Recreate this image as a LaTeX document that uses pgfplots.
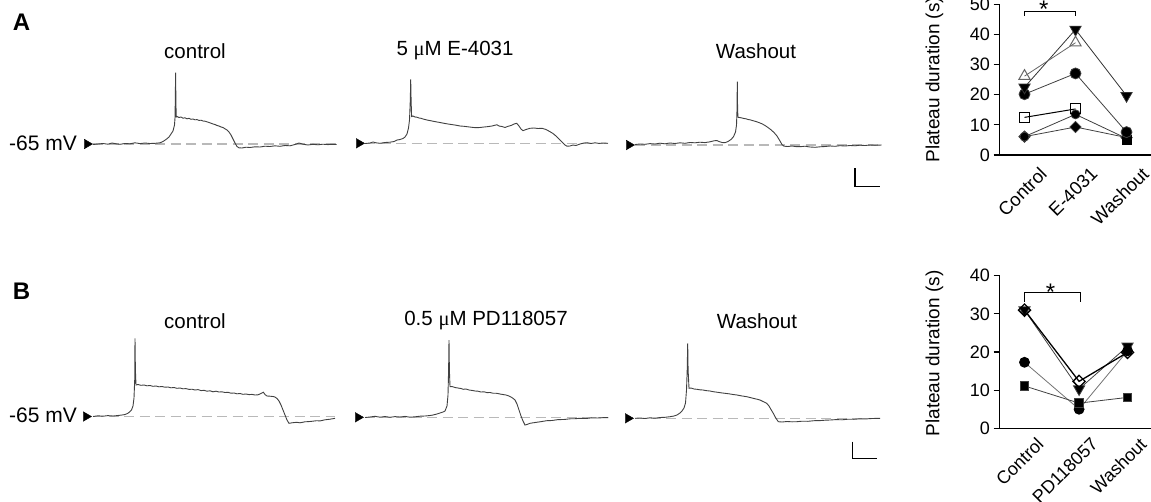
\documentclass[border=0pt]{standalone}
\usepackage{pgfplots}
\pgfplotsset{compat=1.18}
\usepackage{fontspec}
\setmainfont{Liberation Sans}
\newfontfamily\serifmu{Liberation Serif}
\definecolor{tracegray}{RGB}{65,65,65}
\definecolor{dashgray}{RGB}{185,185,185}
\begin{document}
\begin{tikzpicture}[x=1pt,y=1pt]
\useasboundingbox (0,0) rectangle (1151,501);
\begin{axis}[at={(0pt,0pt)}, anchor=south west, width=1151pt, height=501pt, scale only axis,
  xmin=0, xmax=1151, ymin=0, ymax=501, y dir=reverse, axis lines=none, clip=false]
% dashed baselines
\addplot[dashgray, line width=1.1pt, dash pattern=on 10pt off 5.5pt] coordinates {(93,144)(337,144)};
\addplot[dashgray, line width=1.1pt, dash pattern=on 10pt off 5.5pt] coordinates {(365,143.3)(608,143.3)};
\addplot[dashgray, line width=1.1pt, dash pattern=on 10pt off 5.5pt] coordinates {(635,145)(882,145)};
\addplot[dashgray, line width=1.1pt, dash pattern=on 10pt off 5.5pt] coordinates {(93,416.7)(335,416.7)};
\addplot[dashgray, line width=1.1pt, dash pattern=on 10pt off 5.5pt] coordinates {(365,417.7)(608,417.7)};
\addplot[dashgray, line width=1.1pt, dash pattern=on 10pt off 5.5pt] coordinates {(635,418.3)(880,418.3)};
% traces A
\addplot[tracegray, line width=0.9pt] coordinates {(93,144.5)(98,144)(103,143.5)(108,144.2)(112,143)(116,143.8)(120,144.3)(125,143.5)(130,143.8)(135,142.8)(140,143.6)(145,143)(150,143.5)(155,143.3)(160,142.8)(163,141.5)(166,139.5)(169,137)(171,134)(173,131)(174.5,125)(175,118)(175.3,100)(175.6,72.7)(175.9,100)(176.2,117)(177,116.5)(179,117.5)(181,117)(183,118.2)(185,117.8)(187,118.8)(189,118.3)(191,119.3)(193,119)(195,119.8)(197,119.6)(199,120.4)(201,120.2)(203,121)(205,121.2)(207,121.8)(209,122.5)(211,123.2)(213,124)(215,124.5)(217,125.5)(219,126)(221,127)(223,127.5)(225,128.8)(227,130)(229,132)(231,135)(233,139)(235,143)(237,146.5)(239,147.8)(242,148)(246,147.2)(250,147.5)(255,146.8)(260,147)(265,146.2)(270,146.5)(275,145.8)(280,146.3)(285,145.5)(290,145.8)(295,144.5)(299,143)(303,144.2)(308,145)(313,144.3)(318,144.8)(323,144.2)(328,144.6)(332,144.3)(336.7,144.5)};
\addplot[tracegray, line width=0.9pt] coordinates {(365,143.5)(370,143)(373,142)(376,142.8)(380,143.3)(385,142.5)(390,142.2)(394,141.5)(397,140)(400,139.5)(403,138.5)(405,137)(407,134)(408.5,128)(409.5,120)(410.3,100)(410.7,79.3)(411.1,100)(411.6,116.5)(413,116)(415,117)(417,117.2)(419,118)(421,118.3)(423,119)(425,119.5)(427,120)(430,120.6)(433,121.2)(436,121.8)(440,122.5)(444,123.3)(448,124)(452,124.6)(456,125.2)(460,126)(464,126.3)(468,126.8)(472,127.3)(476,127.7)(480,127.5)(484,127)(488,126.6)(492,126)(495,125.2)(497,124.8)(499,126)(502,126.5)(505,127.5)(508,126.3)(511,125.5)(514,124)(516.7,123.3)(519,126)(521,129)(523,130.7)(526,129.5)(530,128.3)(534,128)(538,128.5)(542,128.3)(546,129.5)(550,131.7)(553,133.5)(556,136)(559,139)(562,142)(565,145)(567,146.2)(570,146)(573,145)(576,145.5)(580,144)(584,143)(587,142.7)(591,143.5)(595,142.8)(599,143.4)(603,143)(608,143.3)};
\addplot[tracegray, line width=0.9pt] coordinates {(635,144.5)(640,144)(645,144.3)(650,143.6)(655,144)(660,143.2)(665,143.8)(670,143)(675,143.5)(680,142.8)(685,143.3)(690,142.5)(695,142.8)(700,142.2)(705,142.6)(710,141.8)(714,140.8)(716.7,140.5)(719,141.5)(722,142.5)(725,142.7)(728,141.5)(731,139.5)(733.5,136.7)(735.5,132)(736.5,125)(737,110)(737.3,81.7)(737.6,110)(738,117.3)(740,117.6)(742,118)(744,118.5)(746,118.8)(748,119.5)(750,119.8)(753,120.7)(756,121.5)(759,122.6)(762,123.8)(765,125.5)(768,127.5)(771,129.8)(774,132.5)(777,136)(780,141)(782,144.5)(784,146.2)(788,146.5)(792,146)(796,146.6)(800,146.7)(805,146.2)(810,147)(815,147.3)(820,146.8)(825,146.5)(830,146)(835,146.3)(840,145.7)(845,146)(850,145.5)(855,145.8)(860,145.2)(865,145.5)(870,145)(875,145.3)(881.7,145)};
% traces B
\addplot[tracegray, line width=0.9pt] coordinates {(93,416.5)(98,415.8)(103,416.2)(108,415.6)(113,416)(118,415.5)(122,415)(125,414.5)(127.5,413.5)(129.5,412)(131.5,410)(133,406)(134,398)(134.7,380)(135,338.3)(135.4,370)(136,385)(138,384.5)(141,385.3)(144,385)(147,385.8)(150,385.5)(153,386.3)(156,386)(159,386.8)(162,386.5)(165,387.2)(168,387)(171,387.8)(174,387.5)(177,388.3)(180,388)(183,388.8)(186,388.6)(189,389.4)(192,389.2)(195,390)(198,389.6)(201,390.6)(204,390.3)(207,391.2)(210,390.8)(213,391.8)(216,391.2)(219,392)(222,391.8)(225,392.5)(228,392.3)(231,393.2)(234,393)(237,393.8)(240,393.5)(243,394.3)(246,394)(249,394.6)(252,394.4)(255,395)(258,394.8)(261,393.5)(263.3,392.2)(265,394.5)(267,396)(270,396.2)(273,396.5)(275,397)(277,398.5)(279,401)(281,405)(283,410)(285,415)(287,420)(289,423.3)(292,422.8)(296.7,422.3)(300,422.8)(305,421.8)(310,421.5)(316.7,420.7)(320,420.9)(325,419.8)(330,419.2)(335,418.3)};
\addplot[tracegray, line width=0.9pt] coordinates {(365,417.5)(370,417)(375,416.3)(380,417.2)(385,416.5)(390,417.3)(395,416.6)(400,417)(405,416.4)(410,417.2)(415,416.8)(420,416.2)(425,416)(430,415.5)(433,415)(437,414)(440,413)(443,412)(445,411)(447,406)(448,395)(448.6,370)(449,340)(449.4,370)(450,386.7)(452,386.5)(455,387.5)(458,388)(461,388.5)(463.3,389.3)(466,389)(469,390)(472,390.4)(475,391)(478,391.2)(481,392)(484,391.8)(487,392.6)(490,392.5)(493,393.2)(496.7,393.3)(500,394)(503,394.5)(506,395)(509,396)(511,397)(513,398.3)(515,400)(517,404)(519,410)(521,416)(523,421)(525,425)(527,424.5)(530,423.3)(535,422.5)(540,421.8)(546.7,420.7)(552,420.5)(558,419.6)(564,419.5)(570,418.8)(575,418.7)(580,418.3)(586,418.5)(592,417.8)(598,418)(604,417.6)(608.3,417.7)};
\addplot[tracegray, line width=0.9pt] coordinates {(635,418.3)(640,418)(645,418.5)(650,417.8)(655,418.2)(660,417.5)(665,417.3)(670,416.7)(674,416)(677,415)(680,413)(682,411)(684,408)(685.5,403)(686.5,390)(687.2,370)(687.7,343.3)(688.1,370)(689,388.3)(691,388)(694,389)(697,389.3)(700,389.8)(703,390)(706,390.6)(710,391)(713.3,391.7)(717,392.2)(721,392.8)(725,393.3)(729,393.8)(733,394.5)(737,395)(741,395.8)(746.7,396.7)(750,397.5)(754,398.5)(757,399.2)(760,400)(763,401.5)(766.7,403.3)(769,406)(771,409.5)(773.3,413.3)(775.5,417.5)(778.3,421.7)(782,422)(787,421.5)(792,421.8)(796.7,421.7)(802,421.2)(808,421.3)(814,420.7)(820,420.6)(825,420.2)(830,420)(836,419.6)(842,419.8)(848,419.2)(854,419.3)(860,418.8)(866,418.9)(872,418.5)(880,418.3)};
% arrowheads
\addplot[only marks, mark=triangle*, mark size=5.5pt, mark options={rotate=-90, fill=black, draw=black}] coordinates {(87,144)(359,143.3)(629,145)(86,416.5)(358,417.3)(628,418.3)};
% scale bars
\addplot[black, line width=1.2pt] coordinates {(855,168.3)(855,186.7)(880,186.7)};
\addplot[black, line width=1.2pt] coordinates {(852.7,441.7)(852.7,458.3)(876.7,458.3)};
% texts
\node[font=\fontsize{24}{28}\selectfont\bfseries] at (axis cs:21.5,22.5) {A};
\node[font=\fontsize{24}{28}\selectfont\bfseries] at (axis cs:21.5,291.5) {B};
\node[font=\fontsize{20.5}{24}\selectfont] at (axis cs:195,51) {control};
\node[font=\fontsize{20.5}{24}\selectfont] at (axis cs:455,51) {5 {\serifmu μ}M E-4031};
\node[font=\fontsize{20.5}{24}\selectfont] at (axis cs:756,51) {Washout};
\node[font=\fontsize{20.5}{24}\selectfont] at (axis cs:195,321) {control};
\node[font=\fontsize{20.5}{24}\selectfont] at (axis cs:486,321) {0.5 {\serifmu μ}M PD118057};
\node[font=\fontsize{20.5}{24}\selectfont] at (axis cs:757,321) {Washout};
\node[font=\fontsize{21}{24}\selectfont] at (axis cs:43,143) {-65 mV};
\node[font=\fontsize{21}{24}\selectfont] at (axis cs:43,415) {-65 mV};
\end{axis}

% scatter A
\begin{axis}[at={(999.5pt,346pt)}, anchor=south west, width=151.5pt, height=150.5pt, scale only axis,
  xmin=-0.49, xmax=2.48, ymin=0, ymax=50, clip=false,
  axis lines*=left, axis line style={line width=1.3pt},
  ytick={0,10,...,50}, xtick={0,1,2}, xticklabels={Control,E-4031,Washout},
  x tick style={draw=none}, y tick style={line width=1.1pt, black}, tick align=outside, major tick length=6pt,
  tick label style={font=\fontsize{18}{20}\selectfont}, /pgf/number format/assume math mode=true,
  xticklabel style={font=\fontsize{18.5}{20}\selectfont, xshift=14pt, rotate=45, anchor=north east},
  ylabel={Plateau duration (s)}, ylabel style={font=\fontsize{19}{21}\selectfont, at={(axis description cs:-0.43,0.5)}, anchor=center}]
\addplot[black!75, line width=0.8pt, mark=square*, mark size=4pt, mark options={rotate=45, fill=black}] coordinates {(0,6.1)(1,9.3)(2,5.8)};
\addplot[black!75, line width=0.8pt, mark=*, mark size=4.5pt, mark options={fill=black}] coordinates {(0,6.1)(1,13.5)(2,5.5)};
\addplot[black, line width=1pt, mark=square, mark size=5pt, mark options={fill=white, draw=black, line width=1pt}] coordinates {(0,12.5)(1,15.3)};
\addplot[only marks, mark=square*, mark size=4.5pt, mark options={fill=black}] coordinates {(2,5)};
\addplot[black!75, line width=0.8pt, mark=*, mark size=5.5pt, mark options={fill=black}] coordinates {(0,20.2)(1,27.1)(2,7.6)};
\addplot[black!80, line width=0.8pt, mark=triangle*, mark size=6.5pt, mark options={rotate=180, fill=black}] coordinates {(0,22.5)(1,41.7)(2,19.7)};
\addplot[black!60, line width=0.8pt, mark=triangle, mark size=6.5pt, mark options={fill=white, draw=black!60, line width=1pt}] coordinates {(0,26.2)(1,37.3)};
\addplot[black, line width=1pt] coordinates {(0,46.2)(0,47.6)(1,47.6)(1,46.2)};
\node[font=\fontsize{24}{26}\selectfont, anchor=base] at (axis cs:0.38,45.6) {*};
\end{axis}

% scatter B
\begin{axis}[at={(999.5pt,72.7pt)}, anchor=south west, width=151.5pt, height=152.6pt, scale only axis,
  xmin=-0.49, xmax=2.48, ymin=0, ymax=40, clip=false,
  axis lines*=left, axis line style={line width=1.3pt},
  ytick={0,10,...,40}, xtick={0,1.07,2.02}, xticklabels={Control,PD118057,Washout},
  x tick style={draw=none}, y tick style={line width=1.1pt, black}, tick align=outside, major tick length=6pt,
  tick label style={font=\fontsize{18}{20}\selectfont}, /pgf/number format/assume math mode=true,
  xticklabel style={font=\fontsize{18}{20}\selectfont, xshift=11pt, yshift=3pt, rotate=45, anchor=north east},
  ylabel={Plateau duration (s)}, ylabel style={font=\fontsize{19}{21}\selectfont, at={(axis description cs:-0.43,0.49)}, anchor=center}]
\addplot[black!75, line width=0.8pt, mark=triangle*, mark size=6.5pt, mark options={rotate=180, fill=black}] coordinates {(0,31)(1.07,10.3)(2.02,21.5)};
\addplot[black!55, line width=0.8pt, mark=*, mark size=5pt, mark options={fill=black, draw=black}] coordinates {(0,17.3)(1.07,5)(2.02,20.3)};
\addplot[black!75, line width=0.8pt, mark=square*, mark size=4.3pt, mark options={fill=black}] coordinates {(0,11.1)(1.07,6.6)(2.02,8.1)};
\addplot[black, line width=1.3pt, mark=square, mark size=4.3pt, mark options={rotate=45, fill=white, draw=black, line width=1.3pt}] coordinates {(0,31)(1.07,12.3)(2.02,19.9)};
\addplot[black, line width=1pt] coordinates {(0,33.1)(0,35.5)(1.09,35.5)(1.09,33.1)};
\node[font=\fontsize{24}{26}\selectfont, anchor=base] at (axis cs:0.51,33.4) {*};
\end{axis}
\end{tikzpicture}
\end{document}
